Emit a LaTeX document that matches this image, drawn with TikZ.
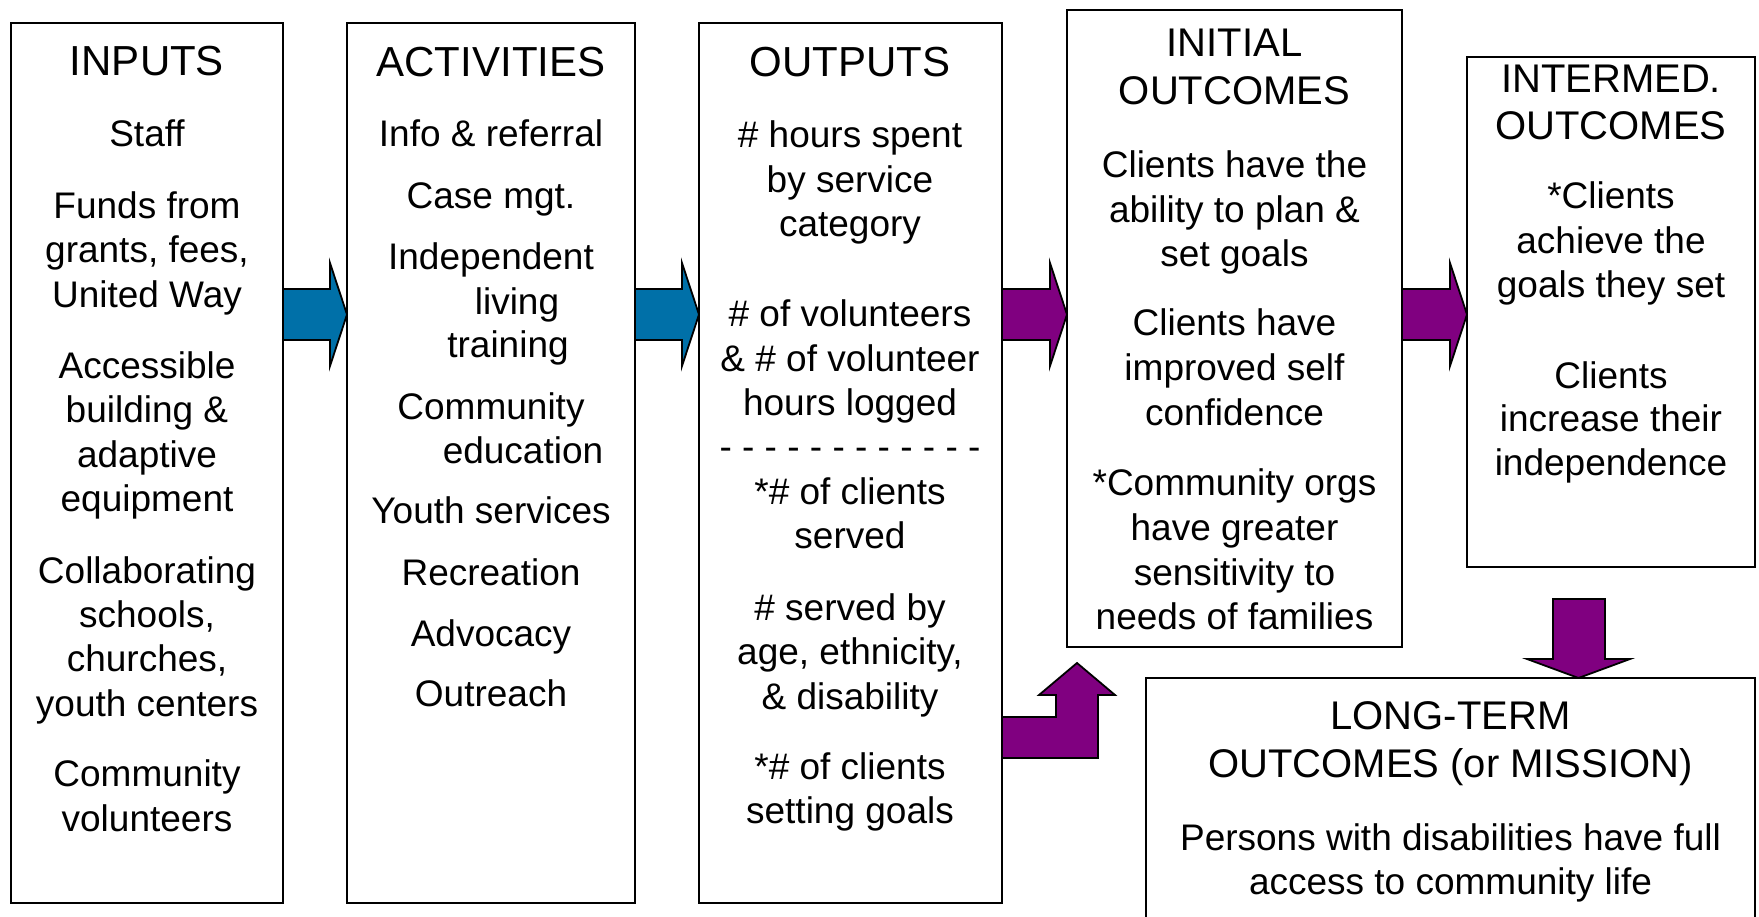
\documentclass[tikz,border=0pt]{standalone}
\usepackage{fontspec}
\setmainfont{Liberation Sans}
\usetikzlibrary{calc}
\definecolor{arrblue}{RGB}{0,112,168}
\definecolor{arrpurple}{RGB}{128,0,128}
\tikzset{
  box/.style={draw=black,line width=1.8pt,inner sep=0pt,outer sep=0pt,fill=none},
  body/.style={inner sep=0pt,anchor=base,font=\fontsize{37}{45}\selectfont},
  ttl/.style={inner sep=0pt,anchor=base,font=\fontsize{42}{50}\selectfont},
  ttlr/.style={inner sep=0pt,anchor=base,font=\fontsize{40}{48}\selectfont},
  arr/.style={draw=black,line width=1.8pt,line join=miter},
}
\newcommand\tx[5]{\node[#4] (#1) at (#2,#3) {#5};}
\newcommand\harrow[3]{%
  \path (#1.east |- 0,314.5) coordinate (#1-a) (#2.west |- 0,314.5) coordinate (#2-b);
  \draw[arr,fill=#3] ($(#1-a)+(0,-25.5)$) -- ($(#2-b)+(-17,-25.5)$) -- ($(#2-b)+(-17,-51.5)$)
    -- (#2-b) -- ($(#2-b)+(-17,51.5)$) -- ($(#2-b)+(-17,25.5)$) -- ($(#1-a)+(0,25.5)$) -- cycle;}
\begin{document}
\begin{tikzpicture}[x=1pt,y=-1pt]
\useasboundingbox (0,0) rectangle (1759,917);
% boxes
\node[box,minimum width=272pt,minimum height=880pt] (inputs) at (147,463) {};
\node[box,minimum width=288pt,minimum height=880pt] (activities) at (491,463) {};
\node[box,minimum width=303pt,minimum height=880pt] (outputs) at (850.5,463) {};
\node[box,minimum width=335pt,minimum height=637pt] (initial) at (1234.5,328.5) {};
\node[box,minimum width=288pt,minimum height=510pt] (intermed) at (1611,312) {};
\node[box,minimum width=609pt,minimum height=270pt] (longterm) at (1450.5,813) {};
% INPUTS
\tx{t1}{147}{76}{ttl}{INPUTS}
\tx{i1}{147}{147}{body}{Staff}
\tx{i2}{147}{218.5}{body}{Funds from}
\tx{i3}{147}{263}{body}{grants, fees,}
\tx{i4}{147}{307.5}{body}{United Way}
\tx{i5}{147}{378.5}{body}{Accessible}
\tx{i6}{147}{422.5}{body}{building \&}
\tx{i7}{147}{467.5}{body}{adaptive}
\tx{i8}{147}{511.5}{body}{equipment}
\tx{i9}{147}{583.5}{body}{Collaborating}
\tx{i10}{147}{627.5}{body}{schools,}
\tx{i11}{147}{671.5}{body}{churches,}
\tx{i12}{147}{716.5}{body}{youth centers}
\tx{i13}{147}{786.5}{body}{Community}
\tx{i14}{147}{831.5}{body}{volunteers}
% ACTIVITIES
\tx{t2}{491}{77}{ttl}{ACTIVITIES}
\tx{a1}{491}{147}{body}{Info \& referral}
\tx{a2}{491}{208.5}{body}{Case mgt.}
\tx{a3}{491}{269.5}{body}{Independent}
\tx{a4}{517}{314.5}{body}{living}
\tx{a5}{508}{357.5}{body}{training}
\tx{a6}{491}{419.5}{body}{Community}
\tx{a7}{523}{463.5}{body}{education}
\tx{a8}{491}{523.5}{body}{Youth services}
\tx{a9}{491}{585.5}{body}{Recreation}
\tx{a10}{491}{646.5}{body}{Advocacy}
\tx{a11}{491}{706.5}{body}{Outreach}
% OUTPUTS
\tx{t3}{850}{77}{ttl}{OUTPUTS}
\tx{o1}{850}{148}{body}{\# hours spent}
\tx{o2}{850}{193}{body}{by service}
\tx{o3}{850}{236.5}{body}{category}
\tx{o4}{850}{326.5}{body}{\# of volunteers}
\tx{o5}{850}{371.5}{body}{\& \# of volunteer}
\tx{o6}{850}{415.5}{body}{hours logged}
\tx{o7}{850}{459}{body}{- - - - - - - - - - - -}
\tx{o8}{850}{504.5}{body}{*\# of clients}
\tx{o9}{850}{548.5}{body}{served}
\tx{o10}{850}{620.5}{body}{\# served by}
\tx{o11}{850}{664.5}{body}{age, ethnicity,}
\tx{o12}{850}{709}{body}{\& disability}
\tx{o13}{850}{779.5}{body}{*\# of clients}
\tx{o14}{850}{823.5}{body}{setting goals}
% INITIAL OUTCOMES
\tx{t4}{1234.5}{57}{ttlr}{INITIAL}
\tx{t4b}{1234.5}{105}{ttlr}{OUTCOMES}
\tx{n1}{1234.5}{177.5}{body}{Clients have the}
\tx{n2}{1234.5}{222.5}{body}{ability to plan \&}
\tx{n3}{1234.5}{267}{body}{set goals}
\tx{n4}{1234.5}{335.5}{body}{Clients have}
\tx{n5}{1234.5}{380.5}{body}{improved self}
\tx{n6}{1234.5}{425.5}{body}{confidence}
\tx{n7}{1234.5}{495.5}{body}{*Community orgs}
\tx{n8}{1234.5}{540.5}{body}{have greater}
\tx{n9}{1234.5}{585.5}{body}{sensitivity to}
\tx{n10}{1234.5}{629.5}{body}{needs of families}
% INTERMED OUTCOMES
\tx{t5}{1611}{93}{ttlr}{INTERMED.}
\tx{t5b}{1611}{140}{ttlr}{OUTCOMES}
\tx{m1}{1611}{209}{body}{*Clients}
\tx{m2}{1611}{254}{body}{achieve the}
\tx{m3}{1611}{298}{body}{goals they set}
\tx{m4}{1611}{388.5}{body}{Clients}
\tx{m5}{1611}{431.5}{body}{increase their}
\tx{m6}{1611}{475.5}{body}{independence}
% LONG-TERM
\tx{t6}{1450.5}{729}{ttlr}{LONG-TERM}
\tx{t6b}{1450.5}{777}{ttlr}{OUTCOMES (or MISSION)}
\tx{l1}{1450.5}{850}{body}{Persons with disabilities have full}
\tx{l2}{1450.5}{894}{body}{access to community life}
% arrows
\harrow{inputs}{activities}{arrblue}
\harrow{activities}{outputs}{arrblue}
\harrow{outputs}{initial}{arrpurple}
\harrow{initial}{intermed}{arrpurple}
% bent arrow outputs -> initial
\coordinate (bt) at (initial.south -| 1077,0);
\path (outputs.east |- 0,717) coordinate (bs);
\draw[arr,fill=arrpurple] (bs) -- ($(bt)+(-21,70)$) -- ($(bt)+(-21,48)$) -- ($(bt)+(-38,48)$)
  -- ($(bt)+(0,16)$) -- ($(bt)+(38,48)$) -- ($(bt)+(21,48)$) -- ($(bt)+(21,111)$) -- ($(bs)+(0,41)$) -- cycle;
% down arrow intermed -> longterm
\coordinate (dt) at (longterm.north -| 1578.5,0);
\draw[arr,fill=arrpurple] ($(intermed.south -| 1553,0)+(0,32)$) -- ($(intermed.south -| 1605,0)+(0,32)$)
  -- ($(dt)+(26.5,-19)$) -- ($(dt)+(51.5,-19)$) -- (dt) -- ($(dt)+(-51.5,-19)$) -- ($(dt)+(-25.5,-19)$) -- cycle;
\end{tikzpicture}
\end{document}
